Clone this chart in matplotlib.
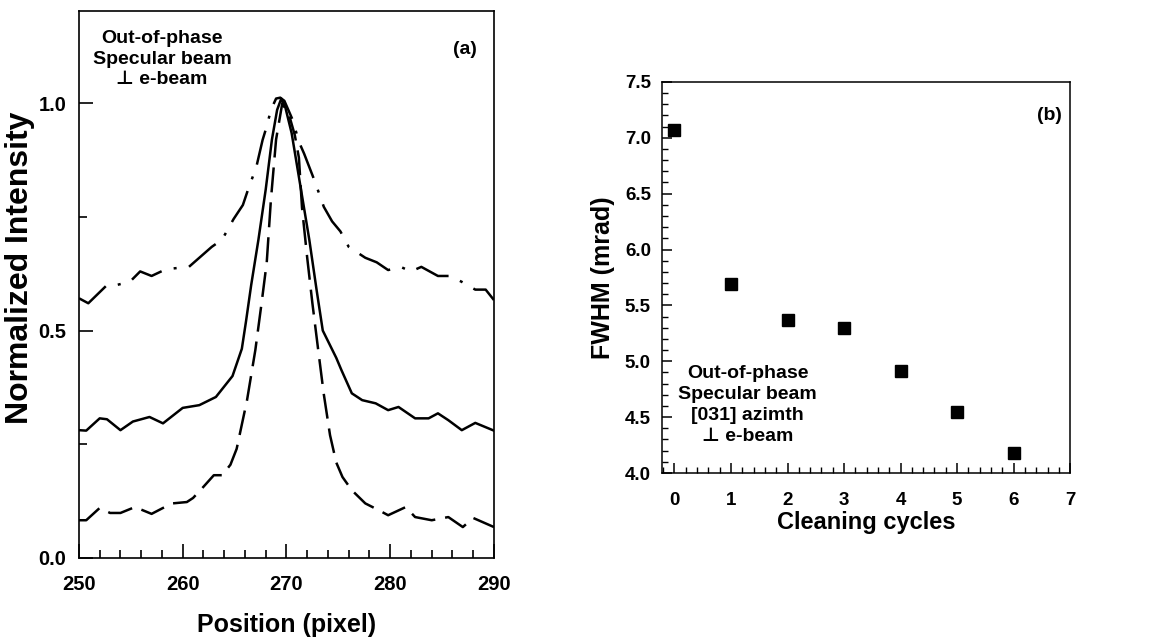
import numpy as np
import matplotlib
matplotlib.use("Agg")
import matplotlib.pyplot as plt
from matplotlib.ticker import MultipleLocator, FormatStrFormatter

plt.rcParams['font.family'] = ['Liberation Sans', 'DejaVu Sans']
plt.rcParams['font.weight'] = 'bold'

# panel (a): line profiles
dashdot_x = [250, 250.9, 252.7, 253.6, 254.9, 255.9, 257, 258.4, 260.6, 261.7, 262.8, 263.8,
             264.9, 265.8, 266.3, 267.1, 267.7, 268.1, 268.5, 269.0, 269.4, 269.8, 270.6,
             271.2, 271.7, 272.7, 273.6, 274.4, 275.2, 276, 277.6, 278.7, 279.8, 281, 282,
             283, 284.6, 285.8, 286.9, 288.2, 289.2, 290]
dashdot_y = [0.571, 0.56, 0.60, 0.60, 0.607, 0.63, 0.62, 0.635, 0.64, 0.662, 0.684, 0.70,
             0.745, 0.776, 0.81, 0.86, 0.919, 0.949, 0.985, 1.01, 1.012, 1.005, 0.963,
             0.915, 0.889, 0.83, 0.772, 0.74, 0.718, 0.684, 0.66, 0.65, 0.633, 0.64, 0.63,
             0.64, 0.62, 0.62, 0.607, 0.59, 0.59, 0.567]

solid_x = [250, 250.7, 252, 252.7, 254, 255.2, 256.8, 258.1, 260, 261.6, 263.2, 264.8, 265.7,
           266.1, 266.6, 267.3, 268, 268.6, 269.1, 269.5, 269.9, 270.5, 271.4, 272.2, 272.9,
           273.5, 274.8, 275.3, 276.3, 277.3, 278.6, 279.8, 280.8, 282.4, 283.7, 284.6,
           285.6, 286.9, 288.2, 290]
solid_y = [0.281, 0.28, 0.307, 0.305, 0.281, 0.30, 0.31, 0.296, 0.33, 0.336, 0.354, 0.40, 0.46,
           0.52, 0.60, 0.70, 0.81, 0.92, 0.985, 1.01, 0.99, 0.934, 0.81, 0.70, 0.59, 0.50,
           0.44, 0.413, 0.362, 0.347, 0.34, 0.325, 0.332, 0.307, 0.307, 0.318, 0.303, 0.281,
           0.297, 0.28]

dashed_x = [250, 250.7, 252, 253, 254, 255.4, 257, 258.1, 259, 260.4, 261, 261.9, 263, 263.8,
            264.6, 265.2, 266.2, 267, 267.6, 268.1, 268.5, 269, 269.6, 270.3, 270.8, 271.2,
            271.5, 272, 272.5, 273.1, 273.6, 274.2, 274.8, 275.4, 276.3, 277.6, 278.9, 279.8,
            281.5, 282.4, 284, 285.6, 287, 288, 290]
dashed_y = [0.083, 0.083, 0.11, 0.099, 0.099, 0.112, 0.097, 0.11, 0.12, 0.123, 0.132, 0.154,
            0.182, 0.182, 0.205, 0.24, 0.347, 0.457, 0.56, 0.65, 0.787, 0.92, 1.0, 0.97, 0.93,
            0.88, 0.77, 0.66, 0.56, 0.45, 0.36, 0.27, 0.21, 0.178, 0.149, 0.12, 0.105, 0.094,
            0.112, 0.09, 0.083, 0.09, 0.068, 0.088, 0.068]

# panel (b): FWHM vs cleaning cycles
cycles = [0, 1, 2, 3, 4, 5, 6]
fwhm = [7.07, 5.69, 5.37, 5.30, 4.91, 4.55, 4.18]

fig = plt.figure(figsize=(11.56, 6.38), dpi=100)

line_kw = dict(color='k', lw=1.8, solid_joinstyle='round', dash_joinstyle='round',
               dash_capstyle='butt')

#%% panel (a)
ax1 = fig.add_axes([0.0683, 0.1254, 0.359, 0.857])
ax1.plot(dashdot_x, dashdot_y, linestyle=(0, (14, 5, 1.2, 5)), **line_kw)
ax1.plot(solid_x, solid_y, **line_kw)
ax1.plot(dashed_x, dashed_y, linestyle=(0, (10, 4)), **line_kw)
ax1.set_xlim(250, 290)
ax1.set_ylim(0, 1.202)
ax1.set_xticks([250, 260, 270, 280, 290])
ax1.xaxis.set_minor_locator(MultipleLocator(2))
ax1.set_yticks([0.0, 0.5, 1.0])
ax1.yaxis.set_minor_locator(MultipleLocator(0.25))
ax1.tick_params(direction='in', which='major', length=10, width=1.2, labelsize=14.5)
ax1.tick_params(direction='in', which='minor', length=6, width=1.2)
ax1.tick_params(axis='x', which='major', pad=12)
ax1.tick_params(axis='y', which='major', pad=9)
for s in ax1.spines.values():
    s.set_linewidth(1.2)
ax1.set_xlabel('Position (pixel)', fontsize=18, fontweight='bold', labelpad=14)
ax1.set_ylabel('Normalized Intensity', fontsize=23, fontweight='bold')
ax1.yaxis.set_label_coords(-0.105, 0.53)
ax1.text(0.2, 0.965, 'Out-of-phase\nSpecular beam\n\u22a5 e-beam', transform=ax1.transAxes,
         ha='center', va='top', fontsize=14, fontweight='bold', linespacing=1.25)
ax1.text(0.96, 0.93, '(a)', transform=ax1.transAxes, ha='right', va='center',
         fontsize=14, fontweight='bold')

#%% panel (b)
ax2 = fig.add_axes([0.5727, 0.2586, 0.353, 0.613])
ax2.plot(cycles, fwhm, 's', color='k', markersize=9)
ax2.set_xlim(-0.22, 6.92)
ax2.set_ylim(4.0, 7.5)
ax2.set_xticks(cycles + [7])
ax2.xaxis.set_minor_locator(MultipleLocator(0.2))
ax2.yaxis.set_major_locator(MultipleLocator(0.5))
ax2.yaxis.set_minor_locator(MultipleLocator(0.1))
ax2.yaxis.set_major_formatter(FormatStrFormatter('%.1f'))
ax2.tick_params(direction='in', which='major', length=7, width=1.1, labelsize=13.5, pad=8)
ax2.tick_params(axis='x', which='major', pad=14)
ax2.tick_params(direction='in', which='minor', length=4, width=1.0)
for s in ax2.spines.values():
    s.set_linewidth(1.1)
ax2.set_xlabel('Cleaning cycles', fontsize=17, fontweight='bold', labelpad=1)
ax2.set_ylabel('FWHM (mrad)', fontsize=18, fontweight='bold')
ax2.yaxis.set_label_coords(-0.115, 0.5)
ax2.text(0.21, 0.174, 'Out-of-phase\nSpecular beam\n[031] azimth\n\u22a5 e-beam',
         transform=ax2.transAxes, ha='center', va='center', fontsize=14,
         fontweight='bold', linespacing=1.3)
ax2.text(0.98, 0.913, '(b)', transform=ax2.transAxes, ha='right', va='center',
         fontsize=14, fontweight='bold')

fig.savefig('out.png', dpi=100)
